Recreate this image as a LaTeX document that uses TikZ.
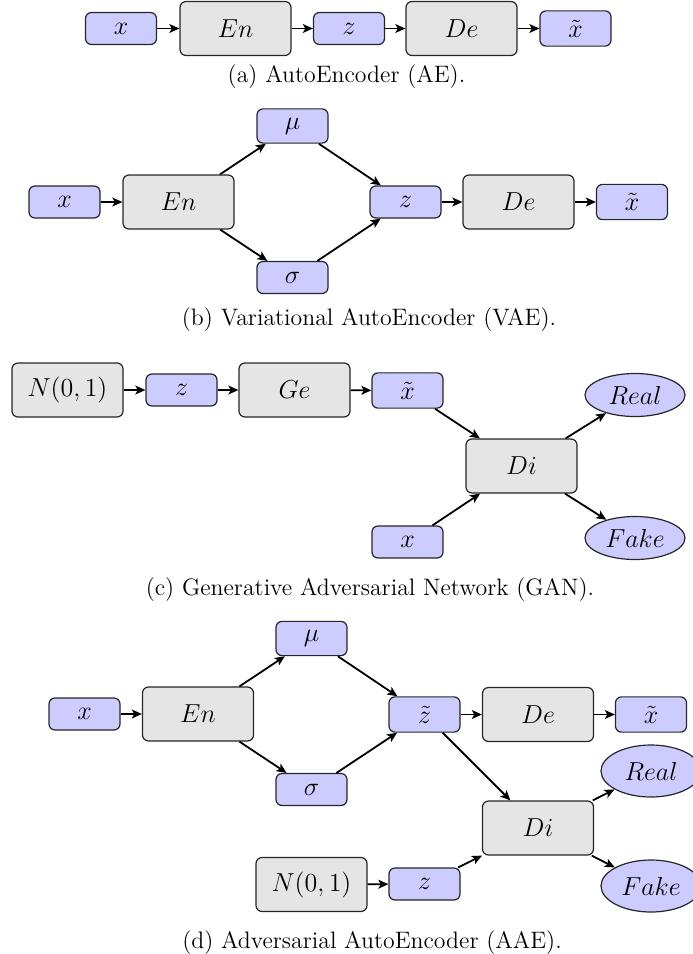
\RequirePackage{fix-cm}
\documentclass[tikz,border=0pt]{standalone}
\usepackage{amsmath,amssymb}
\usepackage{tikz}
\usetikzlibrary{arrows.meta, shapes.geometric}
\tikzset{>={Stealth[length=5pt, width=4.4pt, inset=1.2pt]}}
\definecolor{myblue1}{RGB}{204, 204, 255}
\definecolor{mygray1}{RGB}{229, 229, 229}
\newcommand{\boxfont}{\fontsize{13}{15}\selectfont}
\newcommand{\capfont}{\fontsize{11.9}{14}\selectfont}
\tikzset{
  var/.style = {rectangle, rounded corners = 3pt, draw = black!85, fill = myblue1, line width = 0.6pt,
    minimum width = 35.5pt, minimum height = 16pt, inner sep = 4.5pt, font = \boxfont},
  net/.style = {rectangle, rounded corners = 3pt, draw = black!85, fill = mygray1, line width = 0.6pt,
    minimum width = 55.5pt, minimum height = 27pt, inner sep = 4.5pt, font = \boxfont},
  label/.style = {ellipse, draw = black!85, fill = myblue1, line width = 0.6pt,
    minimum width = 50pt, minimum height = 21.5pt, inner sep = 1pt, font = \boxfont},
  subcap/.style = {font = \capfont},
  conn/.style = {->, line width = 0.9pt}
}

\begin{document}
\begin{tikzpicture}[x = 0.5pt, y = -0.5pt]
\useasboundingbox (0,0) rectangle (692,954);
% (a) AE
\node [var] (xa)  at (121, 28.5)   {$x$};
\node [net] (Ena) at (235.5, 28.5) {$En$};
\node [var] (za)  at (349, 28.5)   {$z$};
\node [net] (Dea) at (461.5, 28.5) {$De$};
\node [var] (xta) at (575.5, 28.5) {$\tilde{x}$};
\draw [conn] (xa) -- (Ena);
\draw [conn] (Ena) -- (za);
\draw [conn] (za) -- (Dea);
\draw [conn] (Dea) -- (xta);
\node [subcap] (capa) at (346.5, 77) {(a) AutoEncoder (AE).};

% (b) VAE
\node [var] (xb)   at (64.5, 202)   {$x$};
\node [net] (Enb)  at (178.5, 202)  {$En$};
\node [var] (mub)  at (292.5, 126)  {$\mu$};
\node [var] (sigb) at (292.5, 277.5) {$\sigma$};
\node [var] (zb)   at (405.5, 202)  {$z$};
\node [net] (Deb)  at (518.5, 202)  {$De$};
\node [var] (xtb)  at (632, 202)    {$\tilde{x}$};
\draw [conn] (xb) -- (Enb);
\draw [conn] (Enb) -- (mub);
\draw [conn] (Enb) -- (sigb);
\draw [conn] (mub) -- (zb);
\draw [conn] (sigb) -- (zb);
\draw [conn] (zb) -- (Deb);
\draw [conn] (Deb) -- (xtb);
\node [subcap] (capb) at (369, 320) {(b) Variational AutoEncoder (VAE).};

% (c) GAN
\node [net] (Nc)    at (67.5, 390)  {$N(0,1)$};
\node [var] (zc)    at (181.5, 390) {$z$};
\node [net] (Gec)   at (294.5, 390) {$Ge$};
\node [var] (xtc)   at (407.5, 390.5) {$\tilde{x}$};
\node [net] (Dic)   at (521.5, 466) {$Di$};
\node [var] (xc)    at (407.5, 542) {$x$};
\node [label] (Realc) at (635, 395) {$Real$};
\node [label] (Fakec) at (635, 538) {$Fake$};
\draw [conn] (Nc) -- (zc);
\draw [conn] (zc) -- (Gec);
\draw [conn] (Gec) -- (xtc);
\draw [conn] (xtc) -- (Dic);
\draw [conn] (xc) -- (Dic);
\draw [conn] (Dic) -- (Realc);
\draw [conn] (Dic) -- (Fakec);
\node [subcap] (capc) at (370, 590) {(c) Generative Adversarial Network (GAN).};

% (d) AAE
\node [var] (xd)   at (84.5, 714)    {$x$};
\node [net] (End)  at (198, 714)     {$En$};
\node [var] (mud)  at (311.5, 638.5) {$\mu$};
\node [var] (sigd) at (311.5, 789.5) {$\sigma$};
\node [var] (ztd)  at (424.5, 714.5) {$\tilde{z}$};
\node [net] (Ded)  at (538, 714.5)   {$De$};
\node [var] (xtd)  at (651, 714.5)   {$\tilde{x}$};
\node [net] (Did)  at (538, 828)     {$Di$};
\node [net] (Nd)   at (311.5, 884.5) {$N(0,1)$};
\node [var] (zd)   at (424.5, 884)   {$z$};
\node [label, minimum height = 26pt] (Reald) at (651, 771) {$Real$};
\node [label, minimum height = 26pt] (Faked) at (651, 886) {$Fake$};
\draw [conn] (xd) -- (End);
\draw [conn] (End) -- (mud);
\draw [conn] (End) -- (sigd);
\draw [conn] (mud) -- (ztd);
\draw [conn] (sigd) -- (ztd);
\draw [conn] (ztd) -- (Ded);
\draw [conn] (Ded) -- (xtd);
\draw [conn] (ztd) -- (Did);
\draw [conn] (Nd) -- (zd);
\draw [conn] (zd) -- (Did);
\draw [conn] (Did) -- (Reald);
\draw [conn] (Did) -- (Faked);
\node [subcap] (capd) at (372, 943) {(d) Adversarial AutoEncoder (AAE).};
\end{tikzpicture}
\end{document}
